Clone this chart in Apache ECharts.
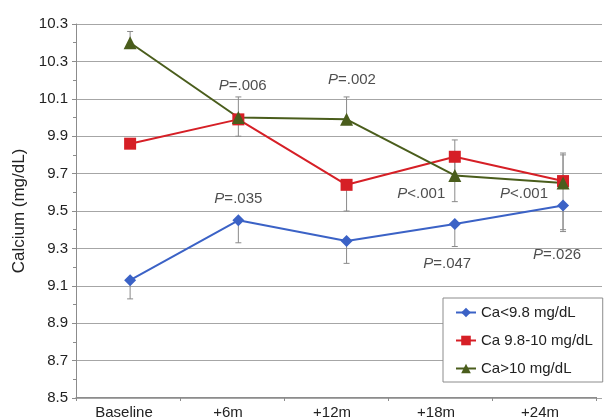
<!DOCTYPE html>
<html>
<head>
<meta charset="utf-8">
<script src="https://cdn.jsdelivr.net/npm/echarts@6/dist/echarts.min.js"></script>
<style>
html,body{margin:0;padding:0;background:#fff;}
#chart{width:605px;height:420px;}
</style>
</head>
<body>
<div id="chart"></div>
<script>
const categories = ['Baseline', '+6m', '+12m', '+18m', '+24m'];
const yTickLabels = ['8.5', '8.7', '8.9', '9.1', '9.3', '9.5', '9.7', '9.9', '10.1', '10.3', '10.3'];
const seriesNames = ['Ca<9.8 mg/dL', 'Ca 9.8-10 mg/dL', 'Ca>10 mg/dL'];
const caLow = [9.13, 9.45, 9.34, 9.43, 9.53];
const caMid = [9.86, 9.99, 9.64, 9.79, 9.66];
const caHigh = [10.40, 10.00, 9.99, 9.69, 9.65];
const caLowErrMinus = [9.03, 9.33, 9.22, 9.31, 9.39];
const caMidErrMinus = [null, 9.90, 9.50, 9.55, 9.40];
const caMidErrPlus = [null, null, null, null, 9.80];
const caHighErrPlus = [10.46, 10.11, 10.11, 9.88, 9.81];
const pTexts = ['=.006', '=.002', '=.035', '<.001', '<.001', '=.047', '=.026'];
const pX = [1.04, 2.05, 1.0, 2.69, 3.64, 2.93, 3.945];
const pY = [10.17, 10.20, 9.564, 9.59, 9.59, 9.217, 9.265];

const FONT = "'Liberation Sans', Arial, Helvetica, sans-serif";
const colors = ['#3b62c6', '#d61f26', '#4a5d1c'];

function pairs(vals) { return vals.map((v, i) => [i, v]); }
function errData(means, ends) {
  const out = [];
  means.forEach((m, i) => { if (ends[i] != null) out.push([i, m, ends[i]]); });
  return out;
}
const errAll = [].concat(
  errData(caLow, caLowErrMinus),
  errData(caMid, caMidErrMinus),
  errData(caMid, caMidErrPlus),
  errData(caHigh, caHighErrPlus)
);

const chart = echarts.init(document.getElementById('chart'), null, {renderer: 'canvas'});
const lineSeries = (name, data, symbol, size, color) => ({
  name: name, type: 'line', xAxisIndex: 0, yAxisIndex: 1,
  data: pairs(data), symbol: symbol, symbolSize: size,
  lineStyle: {color: color, width: 2}, itemStyle: {color: color},
  z: 5, animation: false
});

chart.setOption({
  animation: false,
  textStyle: {fontFamily: FONT},
  grid: [
    {left: 76, right: 3, top: 24, bottom: 22},
    {left: 76, right: 9, top: 24, bottom: 22}
  ],
  xAxis: [
    {type: 'value', gridIndex: 0, min: -0.5, max: 4.36, show: false},
    {type: 'category', gridIndex: 1, data: categories, boundaryGap: true,
     axisLine: {show: true, onZero: false, lineStyle: {color: '#8c8c8c', width: 1}},
     axisTick: {show: true, inside: false, length: 4, lineStyle: {color: '#8c8c8c'}},
     axisLabel: {fontSize: 15, color: '#222', margin: 8, fontFamily: FONT, padding: [0, 8, 0, 0]},
     splitLine: {show: false}}
  ],
  yAxis: [
    {type: 'value', gridIndex: 0, min: 0, max: 10, interval: 1,
     name: 'Calcium (mg/dL)', nameLocation: 'middle', nameGap: 46,
     nameTextStyle: {fontSize: 17, color: '#222', fontFamily: FONT},
     axisLine: {show: true, onZero: false, lineStyle: {color: '#8c8c8c', width: 1}},
     axisTick: {show: true, inside: false, length: 4, lineStyle: {color: '#8c8c8c'}},
     minorTick: {show: true, splitNumber: 2, length: 3, lineStyle: {color: '#8c8c8c'}},
     axisLabel: {fontSize: 15, color: '#222', margin: 8, fontFamily: FONT,
                 formatter: v => yTickLabels[Math.round(v)]},
     splitLine: {show: true, lineStyle: {color: '#a6a6a6', width: 1}}},
    {type: 'value', gridIndex: 0, min: 8.5, max: 10.5, show: false},
    {type: 'value', gridIndex: 1, min: 0, max: 1, show: false}
  ],
  legend: {
    data: seriesNames, orient: 'vertical', left: 443, top: 298,
    padding: [7, 10, 6, 12], itemGap: 13, itemWidth: 20, itemHeight: 12,
    backgroundColor: '#fff', borderColor: '#8c8c8c', borderWidth: 1, borderRadius: 0,
    textStyle: {fontSize: 15, color: '#222', fontFamily: FONT}, z: 20
  },
  series: [
    {type: 'custom', name: 'err', xAxisIndex: 0, yAxisIndex: 1, z: 2, silent: true,
     encode: {x: 0, y: [1, 2]},
     data: errAll,
     renderItem: function (params, api) {
       const p1 = api.coord([api.value(0), api.value(1)]);
       const p2 = api.coord([api.value(0), api.value(2)]);
       const st = {stroke: '#8a8a8a', lineWidth: 1};
       return {type: 'group', children: [
         {type: 'line', shape: {x1: p1[0], y1: p1[1], x2: p2[0], y2: p2[1]}, style: st},
         {type: 'line', shape: {x1: p2[0] - 3, y1: p2[1], x2: p2[0] + 3, y2: p2[1]}, style: st}
       ]};
     }},
    lineSeries(seriesNames[0], caLow, 'diamond', 12, colors[0]),
    lineSeries(seriesNames[1], caMid, 'rect', 12, colors[1]),
    lineSeries(seriesNames[2], caHigh, 'triangle', 13, colors[2]),
    {type: 'scatter', name: 'pvals', xAxisIndex: 0, yAxisIndex: 1, symbolSize: 0, silent: true, z: 6,
     data: pX.map((x, i) => ({value: [x, pY[i]], txt: pTexts[i]})),
     label: {show: true, position: 'inside', color: '#222',
       formatter: p => '{i|P}{n|' + p.data.txt + '}',
       rich: {i: {fontStyle: 'italic', fontSize: 15, color: '#222', fontFamily: FONT},
              n: {fontSize: 15, color: '#222', fontFamily: FONT}}}}
  ]
});
</script>
</body>
</html>
